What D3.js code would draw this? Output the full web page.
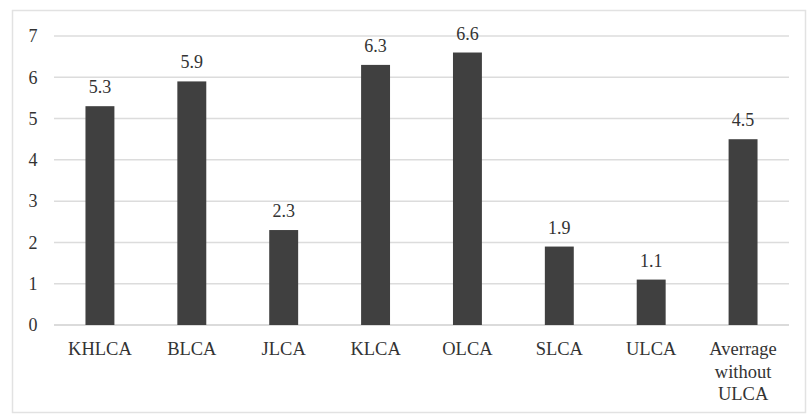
<!DOCTYPE html>
<html><head><meta charset="utf-8">
<script src="https://cdn.jsdelivr.net/npm/d3@7/dist/d3.min.js"></script>
</head><body style="margin:0">
<svg id="c" width="808" height="415"></svg>
<script>
const categories = ["KHLCA","BLCA","JLCA","KLCA","OLCA","SLCA","ULCA","Averrage without ULCA"];
const categoryLines = [["KHLCA"],["BLCA"],["JLCA"],["KLCA"],["OLCA"],["SLCA"],["ULCA"],["Averrage","without","ULCA"]];
const values = [5.3,5.9,2.3,6.3,6.6,1.9,1.1,4.5];
const yTicks = [0,1,2,3,4,5,6,7];
const FONT = "'Times New Roman', Tinos, 'Liberation Serif', serif";

const svg = d3.select("#c");
svg.append("rect").attr("x",12.5).attr("y",10.5).attr("width",793).attr("height",402)
  .attr("fill","#fff").attr("stroke","#e2e2e2").attr("stroke-width",1.5);

const x = d3.scaleBand().domain(categories).range([54,789]).padding(0.685).paddingOuter(0.3425);
const y = d3.scaleLinear().domain([0,7]).range([325,36]);

svg.selectAll("line.grid").data(yTicks).join("line")
  .attr("x1",54).attr("x2",789).attr("y1",d=>y(d)).attr("y2",d=>y(d))
  .attr("stroke",d=>d===0?"#cfcfcf":"#dcdcdc").attr("stroke-width",1.5);

const yAxis = d3.axisLeft(y).tickValues(yTicks).tickSize(0).tickPadding(0).tickFormat(d3.format("d"));
const ya = svg.append("g").attr("transform","translate(38,0)").call(yAxis);
ya.select(".domain").remove();
ya.attr("font-family",null).attr("font-size",null);
ya.selectAll("text").style("font-family",FONT).style("font-size","18px").attr("fill","#333").attr("text-anchor","middle").attr("dx",-5);

svg.selectAll("rect.bar").data(values).join("rect").attr("class","bar")
  .attr("x",(d,i)=>x(categories[i])).attr("width",x.bandwidth())
  .attr("y",d=>y(d)).attr("height",d=>y(0)-y(d)).attr("fill","#404040");

svg.selectAll("text.val").data(values).join("text").attr("class","val")
  .attr("x",(d,i)=>x(categories[i])+x.bandwidth()/2).attr("y",d=>y(d)-13)
  .attr("text-anchor","middle").style("font-family",FONT).style("font-size","18px").attr("fill","#333")
  .text(d=>d3.format(".1f")(d));

categoryLines.forEach((lines,i)=>{
  const t = svg.append("text").attr("x",x(categories[i])+x.bandwidth()/2).attr("y",355)
    .attr("text-anchor","middle").style("font-family",FONT).style("font-size","18.5px").attr("fill","#333");
  lines.forEach((l,j)=>t.append("tspan").attr("x",x(categories[i])+x.bandwidth()/2).attr("dy",j?22.5:0).text(l));
});
</script>
</body></html>
